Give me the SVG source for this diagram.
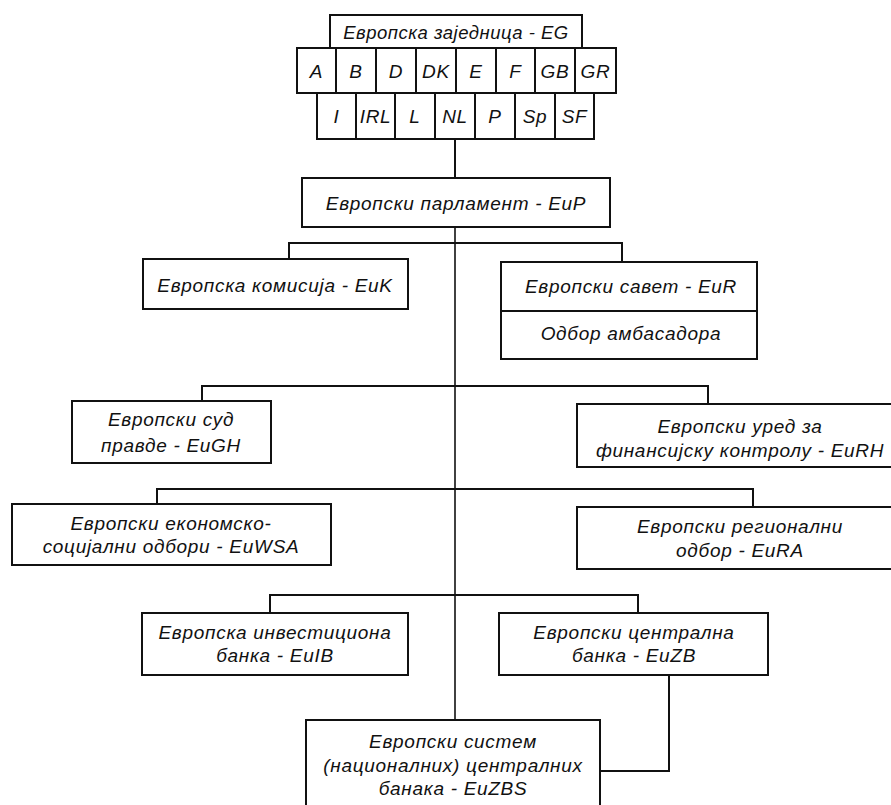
<svg xmlns="http://www.w3.org/2000/svg" width="891" height="805" viewBox="0 0 891 805">
<style>
.b{fill:#fff;stroke:#111;stroke-width:2}
.c{fill:none;stroke:#111;stroke-width:2}
.t{font-family:"Liberation Sans",Arial,sans-serif;font-style:italic;font-size:19px;fill:#111;text-anchor:middle;letter-spacing:0.7px}
.s{font-size:18.5px;letter-spacing:0.5px}
</style>
<rect width="891" height="805" fill="#fff"/>
<g id="connectors">
<line class="c" x1="455" y1="139" x2="455" y2="178"/>
<line class="c" x1="455" y1="227" x2="455" y2="720" style="stroke-width:1.6"/>
<polyline class="c" points="289,259 289,243 622,243 622,262"/>
<polyline class="c" points="202,401 202,386 708,386 708,404"/>
<polyline class="c" points="157,504 157,489 753,489 753,507"/>
<polyline class="c" points="270,613 270,595 638,595 638,613"/>
<polyline class="c" points="669,675 669,771 600,771"/>
</g>
<g id="eg">
<rect class="b" x="330" y="15" width="252" height="33"/>
<text class="t s" x="456" y="39">Европска заједница - EG</text>
</g>
<g id="members1">
<rect class="b" x="297" y="48" width="39" height="45"/><text class="t" x="316.5" y="78">A</text>
<rect class="b" x="336" y="48" width="40" height="45"/><text class="t" x="356" y="78">B</text>
<rect class="b" x="376" y="48" width="40" height="45"/><text class="t" x="396" y="78">D</text>
<rect class="b" x="416" y="48" width="40" height="45"/><text class="t" x="436" y="78">DK</text>
<rect class="b" x="456" y="48" width="40" height="45"/><text class="t" x="476" y="78">E</text>
<rect class="b" x="496" y="48" width="39" height="45"/><text class="t" x="515.5" y="78">F</text>
<rect class="b" x="535" y="48" width="40" height="45"/><text class="t" x="555" y="78">GB</text>
<rect class="b" x="575" y="48" width="41" height="45"/><text class="t" x="595.5" y="78">GR</text>
</g>
<g id="members2">
<rect class="b" x="317" y="93" width="39" height="46"/><text class="t" x="336.5" y="123">I</text>
<rect class="b" x="356" y="93" width="39" height="46"/><text class="t" x="375.5" y="123">IRL</text>
<rect class="b" x="395" y="93" width="40" height="46"/><text class="t" x="415" y="123">L</text>
<rect class="b" x="435" y="93" width="40" height="46"/><text class="t" x="455" y="123">NL</text>
<rect class="b" x="475" y="93" width="40" height="46"/><text class="t" x="495" y="123">P</text>
<rect class="b" x="515" y="93" width="40" height="46"/><text class="t" x="535" y="123">Sp</text>
<rect class="b" x="555" y="93" width="39" height="46"/><text class="t" x="574.5" y="123">SF</text>
</g>
<g id="eup">
<rect class="b" x="302" y="178" width="308" height="49"/>
<text class="t" x="456" y="210">Европски парламент - EuP</text>
</g>
<g id="euk">
<rect class="b" x="143" y="259" width="265" height="50"/>
<text class="t" x="275" y="292">Европска комисија - EuK</text>
</g>
<g id="eur">
<rect class="b" x="501" y="262" width="256" height="97"/>
<line class="c" x1="501" y1="311" x2="757" y2="311"/>
<text class="t" x="631" y="293">Европски савет - EuR</text>
<text class="t" x="631" y="340">Одбор амбасадора</text>
</g>
<g id="eugh">
<rect class="b" x="72" y="401" width="199" height="62"/>
<text class="t" x="171" y="426">Европски суд</text>
<text class="t" x="171" y="452">правде - EuGH</text>
</g>
<g id="eurh">
<rect class="b" x="577" y="404" width="330" height="63"/>
<text class="t" x="740" y="433">Европски уред за</text>
<text class="t" x="740" y="457">финансијску контролу - EuRH</text>
</g>
<g id="euwsa">
<rect class="b" x="12" y="504" width="319" height="61"/>
<text class="t" x="171" y="530">Европски економско-</text>
<text class="t" x="171" y="553">социјални одбори - EuWSA</text>
</g>
<g id="eura">
<rect class="b" x="577" y="507" width="330" height="62"/>
<text class="t" x="740" y="533">Европски регионални</text>
<text class="t" x="740" y="557">одбор - EuRA</text>
</g>
<g id="euib">
<rect class="b" x="142" y="613" width="266" height="62"/>
<text class="t" x="275" y="639">Европска инвестициона</text>
<text class="t" x="275" y="662">банка - EuIB</text>
</g>
<g id="euzb">
<rect class="b" x="499" y="613" width="269" height="62"/>
<text class="t" x="634" y="639">Европски централна</text>
<text class="t" x="634" y="662">банка - EuZB</text>
</g>
<g id="euzbs">
<rect class="b" x="306" y="720" width="294" height="95"/>
<text class="t" x="453" y="748">Европски систем</text>
<text class="t" x="453" y="772">(националних) централних</text>
<text class="t" x="453" y="795">банака - EuZBS</text>
</g>
</svg>
